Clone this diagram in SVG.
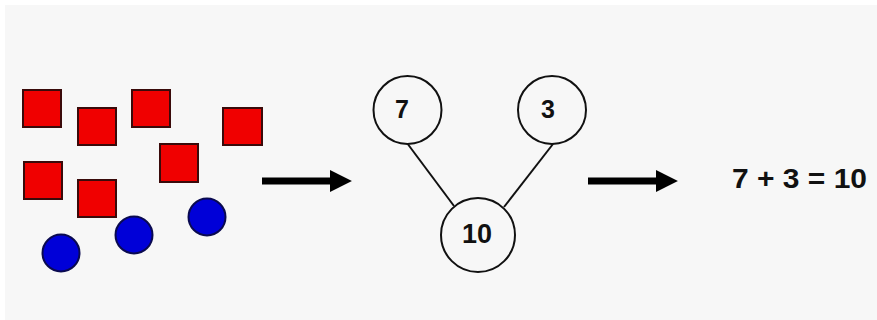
<svg xmlns="http://www.w3.org/2000/svg" width="877" height="320" viewBox="0 0 877 320">
  <style>
    .sq { fill: #f00000; stroke: #3a0a0a; stroke-width: 2; }
    .dot { fill: #0000d8; stroke: #0a0a50; stroke-width: 2; }
    .node { fill: #f7f7f7; stroke: #111111; stroke-width: 2; }
    .edge { stroke: #111111; stroke-width: 2; fill: none; }
    .arrow { stroke: #000000; stroke-width: 7; fill: none; }
    .label { font-family: "Liberation Sans", Arial, sans-serif; font-weight: bold; fill: #111111; text-anchor: middle; }
  </style>
  <defs>
    <marker id="head" viewBox="0 0 10 10" refX="2" refY="5" markerWidth="3.2" markerHeight="3.2" orient="auto" markerUnits="strokeWidth">
      <path d="M0,0 L10,5 L0,10 Z" fill="#000000"/>
    </marker>
  </defs>

  <!-- backdrop -->
  <rect x="0" y="0" width="877" height="320" fill="#ffffff"/>
  <rect x="5" y="5" width="872" height="315" fill="#f7f7f7"/>

  <!-- counters: squares and dots -->
  <g id="counters">
    <rect class="sq" x="23" y="90" width="38" height="37"/>
    <rect class="sq" x="78" y="108" width="38" height="37"/>
    <rect class="sq" x="132" y="90" width="38" height="37"/>
    <rect class="sq" x="223" y="108" width="39" height="37"/>
    <rect class="sq" x="160" y="144" width="38" height="38"/>
    <rect class="sq" x="24" y="162" width="38" height="37"/>
    <rect class="sq" x="78" y="180" width="38" height="37"/>
    <circle class="dot" cx="61" cy="253" r="18.5"/>
    <circle class="dot" cx="134" cy="235" r="18.5"/>
    <circle class="dot" cx="207" cy="217" r="18.5"/>
  </g>

  <!-- connectors -->
  <g id="connectors">
    <line class="arrow" x1="262" y1="181" x2="334" y2="181" marker-end="url(#head)"/>
    <line class="arrow" x1="588" y1="181" x2="660" y2="181" marker-end="url(#head)"/>
    <line class="edge" x1="407" y1="143" x2="454" y2="206"/>
    <line class="edge" x1="553" y1="144" x2="504" y2="207"/>
  </g>

  <!-- number bond -->
  <g id="part-7">
    <circle class="node" cx="407.5" cy="110" r="34"/>
    <text class="label" x="402" y="118" font-size="25">7</text>
  </g>
  <g id="part-3">
    <circle class="node" cx="552" cy="110" r="34"/>
    <text class="label" x="548" y="118" font-size="25">3</text>
  </g>
  <g id="whole-10">
    <circle class="node" cx="478" cy="235" r="37"/>
    <text class="label" x="477" y="243" font-size="27">10</text>
  </g>

  <!-- equation -->
  <g id="equation">
    <text class="label" x="799.5" y="188" font-size="28" textLength="135" lengthAdjust="spacingAndGlyphs">7 + 3 = 10</text>
  </g>
</svg>
